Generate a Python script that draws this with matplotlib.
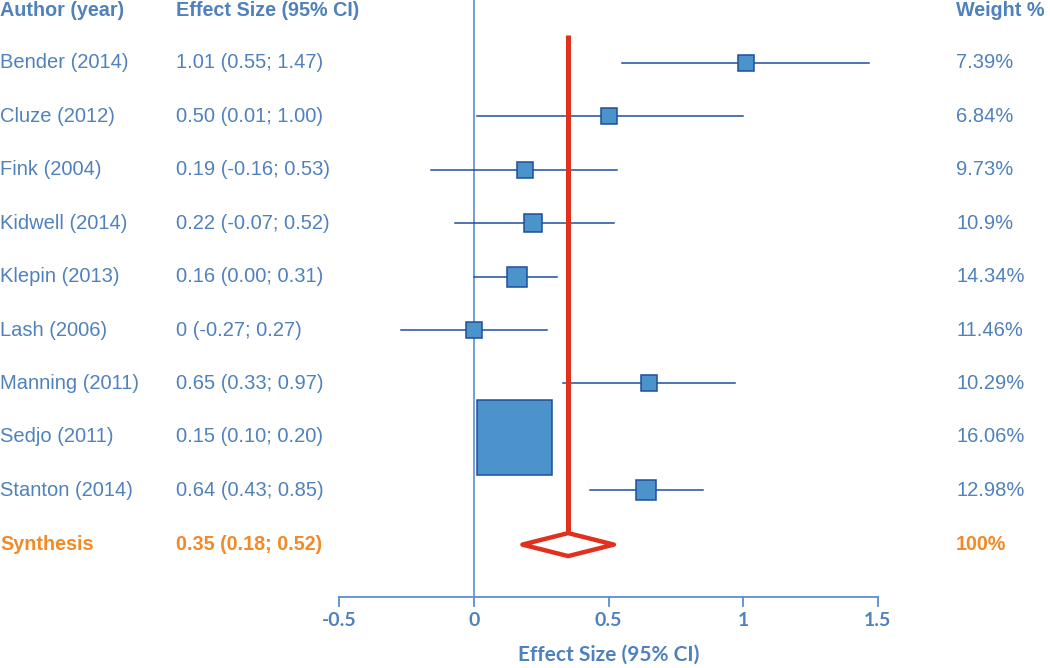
import matplotlib.pyplot as plt
from matplotlib.transforms import blended_transform_factory

# Study data
authors = ['Bender (2014)', 'Cluze (2012)', 'Fink (2004)', 'Kidwell (2014)', 'Klepin (2013)',
           'Lash (2006)', 'Manning (2011)', 'Sedjo (2011)', 'Stanton (2014)']
effect = [1.01, 0.50, 0.19, 0.22, 0.16, 0.00, 0.65, 0.15, 0.64]
lower = [0.55, 0.01, -0.16, -0.07, 0.00, -0.27, 0.33, 0.10, 0.43]
upper = [1.47, 1.00, 0.53, 0.52, 0.31, 0.27, 0.97, 0.20, 0.85]
effect_labels = ['1.01 (0.55; 1.47)', '0.50 (0.01; 1.00)', '0.19 (-0.16; 0.53)',
                 '0.22 (-0.07; 0.52)', '0.16 (0.00; 0.31)', '0 (-0.27; 0.27)',
                 '0.65 (0.33; 0.97)', '0.15 (0.10; 0.20)', '0.64 (0.43; 0.85)']
weights = ['7.39%', '6.84%', '9.73%', '10.9%', '14.34%', '11.46%', '10.29%', '16.06%', '12.98%']

# Pooled estimate
synth_effect, synth_lower, synth_upper = 0.35, 0.18, 0.52
synth_label = '0.35 (0.18; 0.52)'
synth_weight = '100%'

xticks = [-0.5, 0, 0.5, 1, 1.5]
xticklabels = ['-0.5', '0', '0.5', '1', '1.5']

# box sizes (points), as drawn in the original
box_sizes = [12, 11.5, 12, 12.5, 14.5, 11.5, 12, 54, 14.5]

TXT = '#4f81bd'
LINE = '#1f4e9c'
FILL = '#4a94cb'
RED = '#e0301e'
ORANGE = '#f28a26'
FONT = 'Liberation Sans'

fig = plt.figure(figsize=(10.5, 6.68), dpi=100)
ax = fig.add_axes([0, 0, 1, 1])
ax.set_xlim(-474 / 269, (1050 - 474) / 269)
ax.set_ylim(668, 0)
ax.axis('off')

tr = blended_transform_factory(ax.transAxes, ax.transData)
col_x = [0.0, 176 / 1050, 956 / 1050]
row_y = [63 + 53.4 * i for i in range(len(authors))]
synth_y = 63 + 53.4 * len(authors) + 1
axis_y = 597

# headers
for cx, head in zip(col_x, ['Author (year)', 'Effect Size (95% CI)', 'Weight %']):
    ax.text(cx, 11, head, transform=tr, fontsize=14.2, fontweight='bold',
            color=TXT, va='center', ha='left', family=FONT)

# zero line
ax.plot([0, 0], [0, axis_y], color='#5b8fd0', lw=1.2, zorder=1)

for i, y in enumerate(row_y):
    for cx, s in zip(col_x, [authors[i], effect_labels[i], weights[i]]):
        ax.text(cx, y, s, transform=tr, fontsize=14.5, color=TXT, va='center', family=FONT)
    ax.plot([lower[i], upper[i]], [y, y], color=LINE, lw=1.1, zorder=2)
    ax.plot(effect[i], y, marker='s', ms=box_sizes[i], mfc=FILL, mec=LINE, mew=1.1, zorder=3)

# synthesis row
for cx, s in zip(col_x, ['Synthesis', synth_label, synth_weight]):
    ax.text(cx, synth_y, s, transform=tr, fontsize=14.2, fontweight='bold',
            color=ORANGE, va='center', family=FONT)

dh = 11.5
ax.plot([synth_effect, synth_effect], [35, synth_y - dh], color=RED, lw=3.6, zorder=4,
        solid_capstyle='butt')
ax.fill([synth_lower, synth_effect, synth_upper, synth_effect, synth_lower],
        [synth_y, synth_y - dh, synth_y, synth_y + dh, synth_y],
        facecolor='white', edgecolor=RED, lw=3.2, zorder=5, joinstyle='round')

# x axis
ax.plot([xticks[0], xticks[-1]], [axis_y, axis_y], color='#5b8fd0', lw=1.3)
for t, lab in zip(xticks, xticklabels):
    ax.plot([t, t], [axis_y, axis_y + 9], color='#5b8fd0', lw=1.3)
    ax.text(t, 621, lab, ha='center', va='center', fontsize=14, fontweight='bold',
            color=TXT, family='Lato')
ax.text(0.5 * (xticks[0] + xticks[-1]), 655, 'Effect Size (95% CI)', ha='center', va='center',
        fontsize=15, fontweight='bold', color=TXT, family='Lato')

plt.savefig('out.png', dpi=100)
